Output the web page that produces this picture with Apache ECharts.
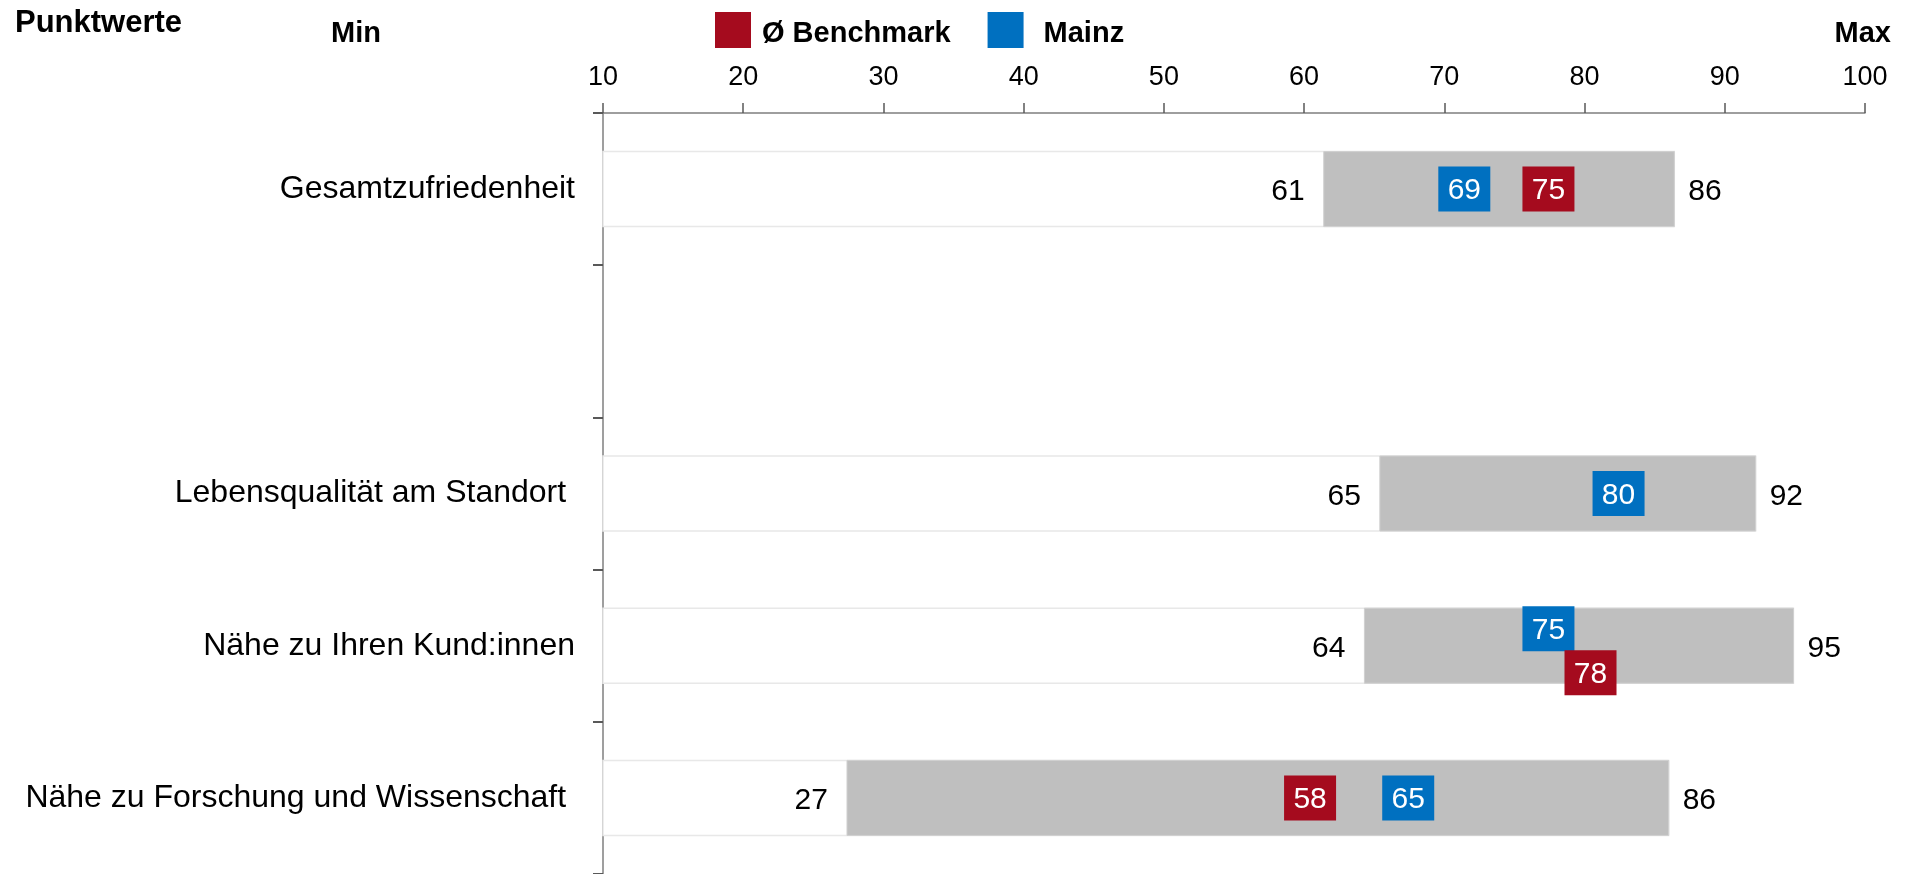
<!DOCTYPE html>
<html>
<head>
<meta charset="utf-8">
<script src="https://cdn.jsdelivr.net/npm/echarts@6/dist/echarts.min.js"></script>
<style>
  html, body { margin: 0; padding: 0; background: #fff; }
  #chart { width: 1910px; height: 874px; }
</style>
</head>
<body>
<div id="chart"></div>
<script>
// Daten
const categories = ['Gesamtzufriedenheit', '', 'Lebensqualität am Standort ', 'Nähe zu Ihren Kund:innen', 'Nähe zu Forschung und Wissenschaft ']
const rangeMin = [61.4, null, 65.4, 64.3, 27.4]
const rangeMax = [86.4, null, 92.2, 94.9, 86.0]
const benchmark = [75, null, null, 78, 58]
const mainz = [69, null, 80, 75, 65]
const axisMin = 10
const axisMax = 100
const axisStep = 10

const FONT = "'Liberation Sans', Arial, sans-serif"
const RED = '#A50B1E'
const BLUE = '#0070C0'

// Bereichsbalken (Min bis Max)
const rangeData = []
categories.forEach((c, i) => {
  if (rangeMin[i] != null) rangeData.push([i, rangeMin[i], rangeMax[i]])
})

// wenn sich Mainz und Benchmark überlappen, nach oben / unten verschieben
function markerData (values, other, shiftY) {
  const out = []
  values.forEach((v, i) => {
    if (v == null) return
    const o = other[i]
    const overlap = o != null && Math.abs(o - v) < 4
    out.push({ value: [v, i], symbolOffset: [34, overlap ? shiftY : 0] })
  })
  return out
}

const markerLabel = {
  show: true,
  position: 'inside',
  offset: [0, 2],
  color: '#fff',
  fontSize: 30,
  fontFamily: FONT,
  formatter: p => p.value[0]
}

const legendRich = {
  t: { fontSize: 29, fontWeight: 'bold', fontFamily: FONT, color: '#000', padding: [8, 0, 0, 0] }
}

const chart = echarts.init(document.getElementById('chart'))
chart.setOption({
  animation: false,
  grid: { left: 603, right: 45, top: 113, bottom: 0 },
  legend: {
    left: 715,
    top: 12,
    padding: 0,
    icon: 'rect',
    itemWidth: 36,
    itemHeight: 36,
    itemGap: 37,
    selectedMode: false,
    formatter: name => '{t|' + name + '}',
    textStyle: { fontSize: 29, fontWeight: 'bold', fontFamily: FONT, color: '#000', rich: legendRich },
    data: [
      { name: 'Ø Benchmark', textStyle: { padding: [0, 0, 0, 6] } },
      { name: 'Mainz', textStyle: { padding: [0, 0, 0, 15] } }
    ]
  },
  graphic: [
    { type: 'text', left: 15, top: 8, style: { text: 'Punktwerte', font: `bold 31px ${FONT}`, fill: '#000' } },
    { type: 'text', left: 331, top: 19, style: { text: 'Min', font: `bold 29px ${FONT}`, fill: '#000' } },
    { type: 'text', right: 19, top: 19, style: { text: 'Max', font: `bold 29px ${FONT}`, fill: '#000' } }
  ],
  xAxis: {
    type: 'value',
    position: 'top',
    min: axisMin,
    max: axisMax,
    interval: axisStep,
    splitLine: { show: false },
    axisLine: { show: true, lineStyle: { color: '#7f7f7f', width: 1.5 } },
    axisTick: { show: true, length: 10, lineStyle: { color: '#595959', width: 1.5 } },
    axisLabel: { margin: 22, fontSize: 27, fontFamily: FONT, color: '#000' }
  },
  yAxis: {
    type: 'category',
    inverse: true,
    data: categories,
    axisLine: { lineStyle: { color: '#7f7f7f', width: 1.5 } },
    axisTick: { show: true, interval: 0, length: 10, lineStyle: { color: '#595959', width: 2 } },
    axisLabel: { margin: 28, padding: [5, 0, 0, 0], fontSize: 32, fontFamily: FONT, color: '#000' }
  },
  series: [
    {
      type: 'custom',
      name: 'Bereich',
      silent: true,
      encode: { x: [1, 2], y: 0 },
      data: rangeData,
      renderItem: (params, api) => {
        const cat = api.value(0)
        const lo = api.value(1)
        const hi = api.value(2)
        const pStart = api.coord([axisMin, cat])
        const pLo = api.coord([lo, cat])
        const pHi = api.coord([hi, cat])
        const h = api.size([0, 1])[1] * 0.493
        const y = pStart[1] - h / 2
        return {
          type: 'group',
          children: [
            { type: 'rect', shape: { x: pStart[0], y: y, width: pHi[0] - pStart[0], height: h }, style: { fill: '#fff', stroke: '#e8e8e8', lineWidth: 1.5 } },
            { type: 'rect', shape: { x: pLo[0], y: y, width: pHi[0] - pLo[0], height: h }, style: { fill: '#bfbfbf', stroke: '#d0d0d0', lineWidth: 1 } },
            { type: 'text', style: { text: String(Math.round(lo)), x: pLo[0] - 19, y: pStart[1] + 3, align: 'right', verticalAlign: 'middle', font: `30px ${FONT}`, fill: '#000' } },
            { type: 'text', style: { text: String(Math.round(hi)), x: pHi[0] + 14, y: pStart[1] + 3, align: 'left', verticalAlign: 'middle', font: `30px ${FONT}`, fill: '#000' } }
          ]
        }
      }
    },
    {
      type: 'scatter',
      name: 'Ø Benchmark',
      symbol: 'rect',
      symbolSize: [52, 45],
      itemStyle: { color: RED, opacity: 1 },
      label: markerLabel,
      silent: true,
      z: 5,
      data: markerData(benchmark, mainz, 27)
    },
    {
      type: 'scatter',
      name: 'Mainz',
      symbol: 'rect',
      symbolSize: [52, 45],
      itemStyle: { color: BLUE, opacity: 1 },
      label: markerLabel,
      silent: true,
      z: 4,
      data: markerData(mainz, benchmark, -17)
    }
  ]
})
</script>
</body>
</html>
